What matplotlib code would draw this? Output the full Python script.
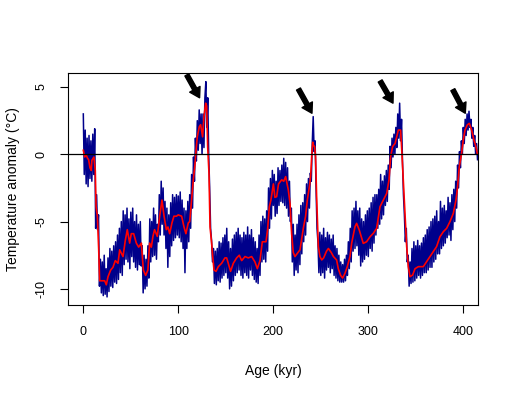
import matplotlib
matplotlib.use('Agg')
import matplotlib.pyplot as plt
import numpy as np

# Vostok-style temperature record
# blue: raw series, one value per kyr (0..415)
blue_temp = [
    3.0, -1.5, 1.8, -2.2, 1.2, -2.4, 1.4, -1.8, 1.0, -2.0,
    1.5, -1.5, 1.9, -5.5, -3.0, -5.6, -4.5, -9.8, -7.8, -10.3,
    -8.0, -10.5, -7.5, -10.4, -8.5, -10.6, -7.7, -10.2, -7.0, -9.8,
    -7.2, -9.9, -6.8, -9.5, -6.5, -9.6, -6.0, -9.3, -5.5, -8.8,
    -5.0, -9.0, -4.2, -8.2, -4.5, -7.8, -4.0, -8.0, -4.8, -8.5,
    -4.3, -7.6, -4.0, -8.0, -5.0, -8.4, -4.5, -8.6, -5.2, -8.2,
    -5.0, -8.3, -6.8, -10.3, -7.5, -10.0, -7.8, -9.8, -6.8, -9.2,
    -4.8, -8.0, -5.0, -7.6, -4.0, -7.5, -4.5, -7.8, -5.2, -6.5,
    -3.0, -6.0, -2.0, -5.2, -2.5, -6.0, -3.5, -7.0, -4.0, -8.4,
    -4.5, -7.6, -3.6, -6.8, -3.0, -6.4, -3.2, -6.2, -3.0, -6.0,
    -3.1, -6.2, -2.8, -6.5, -3.4, -7.0, -4.0, -8.8, -4.2, -7.0,
    -3.5, -6.5, -3.0, -5.5, -1.5, -4.0, -0.2, -2.0, 1.2, -0.5,
    2.5, 0.3, 3.3, 0.8, 3.0, 0.0, 3.0, 0.5, 4.2, 5.4,
    2.0, 4.2, 0.0, -2.5, -5.5, -6.4, -8.0, -7.0, -9.6, -7.2,
    -9.7, -7.0, -9.4, -6.5, -9.5, -6.6, -9.2, -6.2, -9.0, -6.0,
    -8.8, -5.5, -9.2, -6.5, -10.0, -7.0, -9.8, -6.3, -9.4, -6.0,
    -9.0, -5.8, -8.8, -5.5, -8.6, -6.0, -9.0, -6.2, -9.2, -5.8,
    -8.8, -6.0, -9.0, -5.4, -9.2, -6.0, -8.6, -5.6, -9.0, -6.2,
    -9.3, -6.5, -9.5, -7.0, -9.6, -6.0, -9.0, -5.0, -8.0, -4.6,
    -7.8, -4.8, -8.0, -4.2, -7.2, -2.5, -5.5, -1.8, -4.8, -1.2,
    -3.8, -1.5, -4.6, -2.0, -4.4, -1.0, -3.8, -1.2, -3.5, -0.8,
    -3.6, -0.3, -3.8, -0.6, -4.0, -1.0, -4.6, -2.0, -5.0, -4.0,
    -8.0, -5.2, -9.0, -6.0, -8.6, -5.2, -8.8, -4.5, -8.2, -3.8,
    -7.4, -3.6, -6.5, -3.0, -6.0, -2.2, -5.0, -1.8, -4.0, -1.4,
    -2.0, 0.8, 2.8, 0.2, 1.0, -2.5, -5.5, -6.5, -8.8, -5.8,
    -9.0, -6.0, -8.8, -5.5, -9.2, -6.2, -8.6, -5.8, -8.4, -6.0,
    -8.8, -6.3, -8.5, -6.0, -9.0, -6.8, -9.2, -7.0, -9.4, -7.5,
    -9.5, -8.0, -9.5, -8.2, -9.5, -7.8, -9.4, -7.5, -9.0, -6.5,
    -8.5, -5.5, -8.0, -4.2, -7.2, -4.0, -7.0, -3.5, -6.8, -4.2,
    -7.5, -4.0, -8.3, -4.8, -8.0, -5.0, -7.8, -4.5, -7.5, -4.2,
    -7.6, -4.0, -7.0, -3.6, -7.2, -3.2, -6.6, -3.0, -6.0, -3.0,
    -5.5, -2.6, -5.2, -1.5, -4.8, -2.0, -4.5, -1.6, -3.8, -1.2,
    -3.5, -0.8, -2.6, 0.6, -1.0, 1.2, -0.2, 1.5, 0.0, 2.0,
    0.5, 3.0, 1.2, 3.8, 1.0, 2.6, -0.5, -3.0, -4.5, -6.5,
    -5.5, -8.0, -7.5, -9.8, -8.0, -9.6, -7.0, -9.5, -6.5, -9.4,
    -6.8, -9.2, -6.4, -9.0, -6.8, -9.2, -6.6, -9.0, -6.2, -8.8,
    -6.0, -8.8, -5.6, -8.6, -5.4, -8.4, -5.0, -8.4, -4.8, -8.0,
    -4.6, -7.8, -4.2, -7.4, -5.0, -7.4, -3.5, -7.0, -4.0, -6.8,
    -3.8, -6.6, -4.2, -6.2, -3.2, -6.0, -3.6, -6.4, -3.0, -5.6,
    -2.6, -5.0, -2.0, -4.0, -0.8, -2.5, 0.2, -1.0, 1.0, 0.0,
    2.0, 0.8, 2.6, 1.4, 3.0, 1.8, 3.2, 2.0, 2.6, 1.2,
    2.0, 0.6, 1.4, 0.0, 0.8, -0.4,
]
blue_age = list(range(len(blue_temp)))

# red: smoothed series
red_age = [
    0, 1.5, 3, 4.5, 5.6, 7, 8.4, 9, 11.2, 12.6, 13.4, 14.8, 16.2, 17.2, 19,
    22.5, 24.2, 26, 28.8, 31.2, 33.7, 36.5, 38.3, 41.8, 44.2, 46.3, 48.8,
    50.5, 53, 55.8, 58.3, 61.1, 63.2, 65.6, 68, 69.8, 71.6, 73.3, 75, 77.9,
    80.4, 82.8, 85, 87.4, 89.1, 90.9, 93.3, 95.4, 98, 100, 103.5, 106, 108,
    110.5, 112, 114, 115.8, 117.6, 118.7, 120, 122.1, 123.5, 125.6, 127,
    128.8, 129.8, 130.9, 132.3, 133.4, 135.1, 136.2, 137.6, 139.7, 142.1,
    145.6, 149.1, 150.9, 152.6, 155, 157.9, 161.4, 164.2, 166.7, 170.2,
    173.7, 177.2, 180.7, 183.2, 186, 188.4, 190.2, 192.3, 194, 195.8, 197.5,
    200.1, 201.7, 203.5, 205.5, 208.8, 211, 213, 215.8, 217.6, 219.3, 221,
    222.8, 226, 228.1, 231.6, 234, 235.8, 238, 239.3, 240.4, 241.5, 242.1,
    243.5, 244.5, 245.6, 247.4, 249.1, 251, 253, 256, 258, 261, 263.3,
    266.7, 268.4, 270.9, 273, 275.4, 277.9, 280.7, 282.5, 286, 287.7, 290.5,
    294.7, 298.2, 301.8, 305.3, 308.8, 312.3, 315.8, 319.4, 321.8, 323.5,
    325.6, 328.2, 329.9, 331.6, 334, 335.4, 336.8, 338.6, 340.4, 342.1,
    343.9, 346.7, 349.2, 352.7, 357.9, 361.4, 364.9, 368.4, 371.9, 375.4,
    379, 382.5, 386, 389.5, 392.3, 394, 395.8, 398.2, 400, 401.8, 404.2,
    406.3, 408.8, 411.2, 413.3, 414.7,
]
red_temp = [
    0.3, -0.2, -0.05, -0.3, -0.4, -1.0, -1.2, -0.45, -0.2, -1.2, -3.9, -4.6,
    -7.1, -9.4, -9.4, -9.4, -9.7, -9.1, -8.6, -8.4, -7.9, -8.1, -7.1, -7.6,
    -6.4, -5.6, -6.6, -5.9, -5.9, -6.6, -6.9, -6.6, -8.6, -9.0, -8.6, -6.6,
    -6.9, -6.1, -5.6, -6.1, -4.6, -3.4, -4.6, -5.6, -5.4, -5.9, -5.1, -4.6,
    -4.6, -4.5, -4.6, -5.4, -5.9, -5.1, -5.0, -3.4, -1.9, -0.7, 0.3, 1.3,
    2.05, 2.2, 1.3, 2.8, 3.8, 3.6, 0.57, -1.4, -5.4, -6.6, -7.6, -8.6, -8.7,
    -8.35, -8.1, -7.7, -7.7, -8.1, -8.7, -8.1, -7.7, -7.5, -7.9, -7.6, -7.7,
    -7.6, -8.0, -8.5, -7.9, -6.5, -6.5, -6.5, -5.6, -3.9, -3.4, -2.2, -3.2,
    -3.15, -2.2, -1.9, -2.0, -1.66, -2.65, -3.65, -5.9, -7.3, -7.6, -7.3,
    -7.1, -5.5, -4.6, -3.4, -2.4, -1.66, -0.17, 0.9, 0.7, 0.57, -0.17,
    -3.15, -6.86, -7.6, -7.85, -7.7, -7.2, -7.0, -7.3, -7.6, -7.86, -8.5,
    -9.0, -9.2, -8.85, -8.35, -7.6, -6.6, -5.38, -5.13, -5.63, -6.62, -6.5,
    -6.13, -5.87, -5.5, -3.9, -3.4, -2.9, -1.9, -0.17, 0.57, 0.81, 1.3, 1.8,
    1.8, 0.07, -1.9, -4.39, -6.86, -8.35, -9.1, -8.97, -8.5, -8.35, -8.35,
    -7.98, -7.6, -7.24, -6.86, -6.13, -5.75, -5.5, -5.0, -4.39, -3.4, -2.4,
    -0.92, 0.07, 1.06, 1.8, 2.18, 2.3, 1.8, 1.06, 0.57, 0.07,
]

# interglacial peaks marked with arrows: (tail age, tail temp, head age, head temp)
arrow_tail_age = [109, 226.5, 312.5, 389]
arrow_tail_temp = [5.9, 4.85, 5.45, 4.8]
arrow_head_age = [122.4, 240.7, 326, 402.1]
arrow_head_temp = [4.2, 3.05, 3.8, 3.05]

plt.rcParams['font.family'] = ['Liberation Sans', 'DejaVu Sans']

fig = plt.figure(figsize=(5.13, 3.95), dpi=100)
ax = fig.add_axes([68.3 / 513, 1 - 305 / 395, 410 / 513, 231.7 / 395])

ax.plot(blue_age, blue_temp, color='#00008B', lw=1.1)
ax.plot(red_age, red_temp, color='#FF0000', lw=1.2)
ax.axhline(0, color='black', lw=0.9)

for i in range(len(arrow_tail_age)):
    ax.annotate('', xy=(arrow_head_age[i], arrow_head_temp[i]),
                xytext=(arrow_tail_age[i], arrow_tail_temp[i]),
                arrowprops=dict(facecolor='black', edgecolor='black',
                                width=3.2, headwidth=8.5, headlength=7))

ax.set_xlim(-15.8, 415.8)
ax.set_ylim(-11.2, 6.02)
ax.set_xticks([0, 100, 200, 300, 400])
ax.set_yticks([-10, -5, 0, 5])
ax.set_yticklabels(['-10', '-5', '0', '5'], rotation=90, va='center')

for s in ax.spines.values():
    s.set_linewidth(0.8)
ax.tick_params(axis='both', length=6, width=0.8, labelsize=9, colors='black')
ax.tick_params(axis='x', pad=9)
ax.tick_params(axis='y', pad=9)

ax.set_xlabel('Age (kyr)', fontsize=10, labelpad=19)
ax.set_ylabel('Temperature anomaly (°C)', fontsize=10, labelpad=11)

fig.savefig('out.png', dpi=100)
